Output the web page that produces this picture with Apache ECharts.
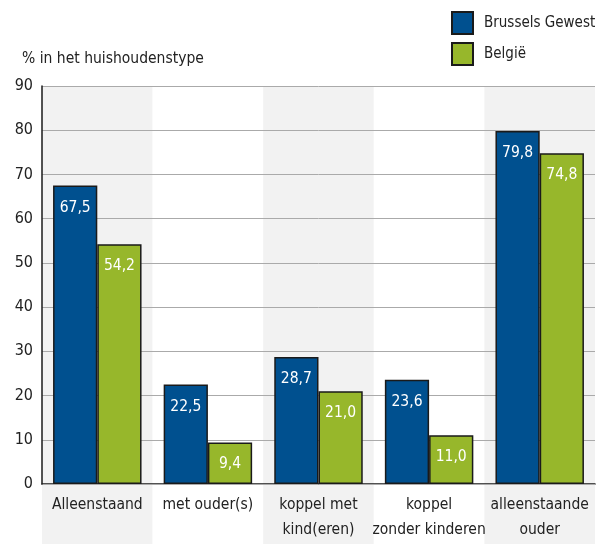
<!DOCTYPE html>
<html>
<head>
<meta charset="utf-8">
<script src="https://cdn.jsdelivr.net/npm/echarts@6/dist/echarts.min.js"></script>
<style>
  html, body { margin: 0; padding: 0; background: #fff; }
  #chart { width: 604px; height: 545px; }
</style>
</head>
<body>
<div id="chart"></div>
<script>
// household types and shares (%)
const categories = ["Alleenstaand", "met ouder(s)", "koppel met\nkind(eren)", "koppel\nzonder kinderen", "alleenstaande\nouder"]
const brussels = [67.5, 22.5, 28.7, 23.6, 79.8]
const belgium = [54.2, 9.4, 21.0, 11.0, 74.8]
const seriesNames = ["Brussels Gewest", "België"]
const yTicks = {min: 0, max: 90, interval: 10}

const font = "'DejaVu Sans Condensed', 'DejaVu Sans', sans-serif"
const bands = ["#f2f2f2", "#ffffff"]

const chart = echarts.init(document.getElementById("chart"), null, {renderer: "canvas"})

const barSeries = (name, data, color) => ({
  name,
  type: "bar",
  data,
  barGap: "0%",
  barCategoryGap: "20%",
  itemStyle: {color, borderColor: "#1a1a1a", borderWidth: 1.5},
  label: {
    show: true,
    position: "insideTop",
    distance: 14,
    color: "#fff",
    fontFamily: font,
    fontSize: 15.5,
    formatter: p => p.value.toFixed(1).replace(".", ","),
  },
})

chart.setOption({
  animation: false,
  backgroundColor: "#fff",
  textStyle: {fontFamily: font},
  title: {
    text: "% in het huishoudenstype",
    left: 17,
    top: 46,
    textStyle: {fontFamily: font, fontSize: 15.5, fontWeight: "normal", color: "#222"},
  },
  legend: {
    orient: "vertical",
    left: 451,
    top: 11,
    padding: 0,
    icon: "rect",
    itemWidth: 21,
    itemHeight: 22,
    itemGap: 7,
    data: seriesNames,
    textStyle: {fontFamily: font, fontSize: 15, color: "#222", padding: [0, 0, 0, 6]},
  },
  grid: [
    {left: 42, right: 9, top: 86, height: 398},
    {left: 42, right: 9, top: 484, height: 60},
  ],
  xAxis: [
    {
      type: "category",
      gridIndex: 0,
      data: categories,
      z: 0,
      axisLine: {lineStyle: {color: "#1a1a1a", width: 1.5}},
      axisTick: {show: false},
      axisLabel: {interval: 0, fontFamily: font, fontSize: 15.5, color: "#222", lineHeight: 25, margin: 8},
      splitArea: {show: true, interval: 0, areaStyle: {color: bands}},
    },
    {
      type: "category",
      gridIndex: 1,
      data: categories,
      z: 0,
      axisLine: {show: false},
      axisTick: {show: false},
      axisLabel: {show: false},
      splitArea: {show: true, interval: 0, areaStyle: {color: bands}},
    },
  ],
  yAxis: [
    {
      type: "value",
      gridIndex: 0,
      z: 1,
      min: yTicks.min,
      max: yTicks.max,
      interval: yTicks.interval,
      axisLine: {show: true, lineStyle: {color: "#1a1a1a", width: 1.5}},
      axisTick: {show: false},
      axisLabel: {fontFamily: font, fontSize: 16, color: "#222", margin: 9},
      splitLine: {lineStyle: {color: "#aaaaaa", width: 1}},
    },
    {
      type: "value",
      gridIndex: 1,
      show: false,
      splitLine: {show: false},
    },
  ],
  series: [
    barSeries(seriesNames[0], brussels, "#00508f"),
    barSeries(seriesNames[1], belgium, "#97b72b"),
  ],
})
</script>
</body>
</html>
